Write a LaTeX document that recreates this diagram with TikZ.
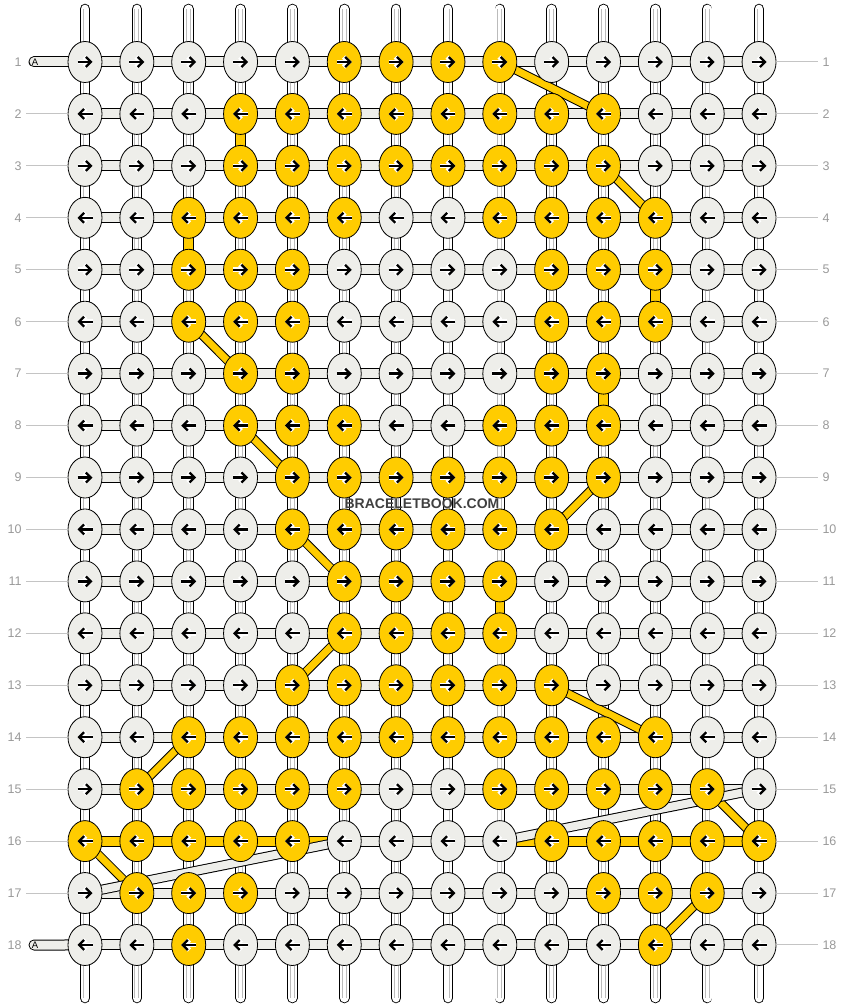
\documentclass[tikz,border=0pt]{standalone}
\usepackage{fontspec}
\setmainfont{Liberation Sans}
\usetikzlibrary{arrows.meta,shapes.geometric}

\definecolor{knotyellow}{HTML}{FFCC00}
\definecolor{knotgrey}{HTML}{EEEEEA}
\definecolor{stripgrey}{HTML}{BBBBBB}
\definecolor{labelgrey}{HTML}{999999}
\definecolor{rulegrey}{HTML}{C4C4C4}
\definecolor{logogrey}{HTML}{404040}

\pgfdeclarelayer{background}
\pgfsetlayers{background,main}

\newcommand\markyellow[2]{\expandafter\gdef\csname yk#1-#2\endcsname{}}

\begin{document}
\begin{tikzpicture}[x=1pt, y=-1pt,
			knot/.style={draw, ellipse, line width=0.8pt, minimum width=34pt, minimum height=41pt, inner sep=0pt},
			dirarrow/.style={line width=2.3pt, -{Straight Barb[length=5pt,width=10pt]}},
			halo/.style={draw=white, line width=4.6pt, -{Straight Barb[length=5pt,width=10pt]}},
			vstrand/.style={draw=black, line width=10.5pt, line cap=round,
				postaction={draw=white, line width=8.7pt, line cap=round},
				postaction={draw=stripgrey, line width=4.8pt, line cap=butt},
				postaction={draw=white, line width=3pt, line cap=butt}},
			hbar/.style={draw=black, line width=11pt, postaction={draw=knotgrey, line width=9pt}},
			tail/.style={draw=black, line width=11pt, line cap=round,
				postaction={draw=knotgrey, line width=9pt, line cap=round}},
			ybar/.style={draw=black, line width=11pt, postaction={draw=knotyellow, line width=9pt}},
			yvert/.style={draw=black, line width=10.5pt, postaction={draw=knotyellow, line width=8.5pt}},
			yband/.style={draw=black, line width=9pt, postaction={draw=knotyellow, line width=7pt}},
			wband/.style={draw=black, line width=10pt, postaction={draw=knotgrey, line width=8pt}},
			rowlabel/.style={text=labelgrey, font=\fontsize{12.5}{14}\selectfont, inner sep=2.5pt, outer sep=2pt},
			labline/.style={draw=rulegrey, line width=1pt}]
			
			\useasboundingbox (0,0) rectangle (844,1008);
			
			% Define which knots are yellow
			\foreach \r/\cols in {1/{6,...,9}, 2/{4,...,11}, 3/{4,...,11}, 4/{3,4,5,6,9,10,11,12},
				5/{3,4,5,10,11,12}, 6/{3,4,5,10,11,12}, 7/{4,5,10,11}, 8/{4,5,6,9,10,11},
				9/{5,...,11}, 10/{5,...,10}, 11/{6,...,9}, 12/{6,...,9}, 13/{5,...,10},
				14/{3,...,12}, 15/{2,3,4,5,6,9,10,11,12,13}, 16/{1,2,3,4,5,10,11,12,13,14},
				17/{2,3,4,11,12,13}, 18/{3,12}}
				{\foreach \c in \cols {\markyellow{\r}{\c}}}
			
			% Define the knots
			\foreach \r in {1,...,18}{
				\foreach \c in {1,...,14}{
					\ifcsname yk\r-\c\endcsname \def\kfill{knotyellow}\else \def\kfill{knotgrey}\fi
					\node[knot, fill=\kfill] (K\r-\c) at ({85+51.85*(\c-1)},{62+51.94*(\r-1)}) {};
					\ifodd\r\relax
						\draw[halo] ([xshift=-7.5]K\r-\c.center) -- ([xshift=7.5]K\r-\c.center);
						\draw[dirarrow] ([xshift=-7.5]K\r-\c.center) -- ([xshift=7.5]K\r-\c.center);
					\else
						\draw[halo] ([xshift=7.5]K\r-\c.center) -- ([xshift=-7.5]K\r-\c.center);
						\draw[dirarrow] ([xshift=7.5]K\r-\c.center) -- ([xshift=-7.5]K\r-\c.center);
					\fi
				}
			}
			
			% Define the strand ends
			\foreach \c in {1,...,14}{
				\coordinate (T\c) at ({85+51.85*(\c-1)},9);
				\coordinate (B\c) at ({85+51.85*(\c-1)},998);
			}
			\coordinate (A1) at (34,62);
			\coordinate (A18) at (34,945);
			
			% Define the row labels
			\foreach \r in {1,...,18}{
				\node[rowlabel, anchor=east] (L\r) at (26,{62+51.94*(\r-1)}) {\r};
				\node[rowlabel, anchor=west] (R\r) at (818,{62+51.94*(\r-1)}) {\r};
				\draw[labline] (K\r-14) -- (R\r);
			}
			\foreach \r in {2,...,17}
				\draw[labline] (L\r) -- (K\r-1);
			
			\node[font=\bfseries\fontsize{14}{16}\selectfont, text=logogrey, inner sep=0pt] (logo) at (422,503.5) {BRACELETBOOK.COM};
			
			\begin{pgfonlayer}{background}
				% Draw the threads
				\foreach \c in {1,...,14}
					\draw[vstrand] (T\c) -- (B\c);
				\foreach \r in {1,...,18}
					\draw[hbar] (K\r-1.center) -- (K\r-14.center);
				\draw[tail] (A1) -- (K1-1.center);
				\draw[tail] (A18) -- (K18-1.center);
				\draw[ybar] (K16-1.center) -- (K16-6.center);
				\draw[ybar] (K16-9.center) -- (K16-14.center);
				\foreach \a/\b in {K2-4/K3-4, K4-3/K5-3, K5-12/K6-12, K7-11/K8-11, K11-9/K12-9}
					\draw[yvert] (\a.center) -- (\b.center);
				\foreach \a/\b in {K1-9/K2-11, K3-11/K4-12, K6-3/K7-4, K8-4/K9-5, K9-11/K10-10,
					K10-5/K11-6, K12-6/K13-5, K13-10/K14-12, K14-3/K15-2, K15-13/K16-14,
					K16-1/K17-2, K17-13/K18-12}
					\draw[yband] (\a.center) -- (\b.center);
				\draw[wband] (K15-14.center) -- (K16-9.center);
				\draw[wband] (K16-6.center) -- (K17-1.center);
			\end{pgfonlayer}
			
			\node[font=\fontsize{9.5}{11}\selectfont, inner sep=0pt] (TA1) at (35,62.5) {A};
			\node[font=\fontsize{9.5}{11}\selectfont, inner sep=0pt] (TA18) at (35,945.5) {A};
		\end{tikzpicture}
\end{document}
